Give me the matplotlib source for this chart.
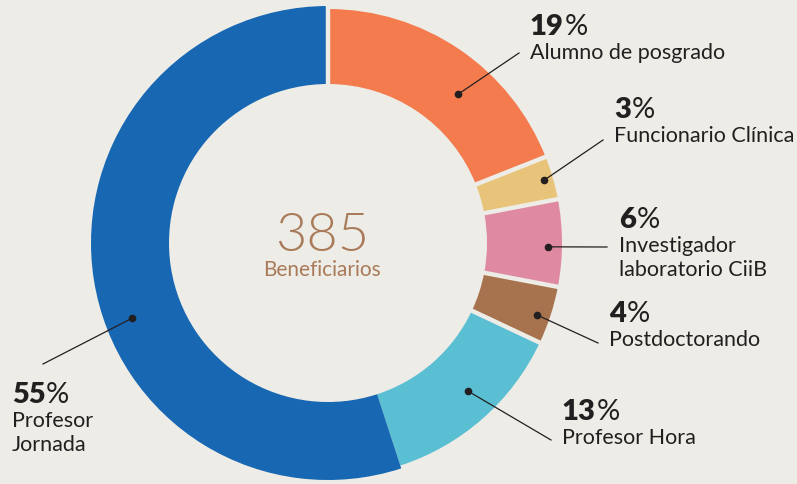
import numpy as np
import matplotlib.pyplot as plt

# data (share of 385 beneficiaries, %)
categories = ["Alumno de posgrado", "Funcionario Clínica", "Investigador\nlaboratorio CiiB",
              "Postdoctorando", "Profesor Hora", "Profesor\nJornada"]
shares = [19, 3, 6, 4, 13, 55]
total = 385
colors = ["#F47B4E", "#E8C47A", "#DF8AA0", "#A6734E", "#5ABFD3", "#1767B3"]

BG = "#EDECE6"
INK = "#231F20"
CENTER_INK = "#A97B5A"
W, H = 797, 484
CX, CY = 328, 243          # donut centre (px from top-left)
R_OUT, R_IN = 234, 159

# label layout: pct anchor (x, baseline y) in px, leader end point, dot angle offset / radius
label_xy = [(530, 35), (614, 118), (619, 228), (609, 322), (562, 420), (12, 403)]
leader_end = [(519, 53), (603, 140), (607, 247), (598, 343), (551, 440), (43, 364)]
dot_offset = [(-7, 198), (0, 225), (-1, 220), (-1, 221), (2, 204), (12, 210)]


def px(x, y):
    return x, H - y


plt.rcParams["font.family"] = ["Lato", "DejaVu Sans"]

fig = plt.figure(figsize=(W / 100, H / 100), dpi=100)
fig.patch.set_facecolor(BG)
ax = fig.add_axes([0, 0, 1, 1])
ax.set_facecolor(BG)

wedges, _ = ax.pie(shares, colors=colors, startangle=90, counterclock=False,
                   radius=R_OUT, center=px(CX, CY),
                   wedgeprops=dict(width=R_OUT - R_IN, linewidth=0))
# the big blue slice sits a touch further out
wedges[-1].set_radius(R_OUT + 3)
wedges[-1].set_width(R_OUT + 3 - R_IN)

cx, cy = px(CX, CY)
bounds = 90 - 360 * np.cumsum([0] + shares) / 100
# gaps between slices (none between the two blues)
for i, th in enumerate(bounds[:-1]):
    if i == len(shares) - 1:
        continue
    t = np.radians(th)
    ax.plot([cx + (R_IN - 5) * np.cos(t), cx + (R_OUT + 8) * np.cos(t)],
            [cy + (R_IN - 5) * np.sin(t), cy + (R_OUT + 8) * np.sin(t)],
            color=BG, lw=3.2, solid_capstyle="butt", zorder=3)

mids = (bounds[:-1] + bounds[1:]) / 2
for i, cat in enumerate(categories):
    da, r = dot_offset[i]
    t = np.radians(mids[i] + da)
    dx, dy = cx + r * np.cos(t), cy + r * np.sin(t)
    ex, ey = px(*leader_end[i])
    ax.plot([dx, ex], [dy, ey], color=INK, lw=0.9, zorder=4)
    ax.plot(dx, dy, "o", color=INK, ms=4.5, zorder=5)

    lx, ly = label_xy[i]
    num = ax.text(*px(lx, ly), f"{shares[i]}", fontsize=21, fontweight="heavy",
                  color=INK, ha="left", va="baseline")
    ax.annotate("%", xy=(1.0, 0), xycoords=num, xytext=(0.3, 0), textcoords="offset points",
                fontsize=21, color=INK, ha="left", va="bottom")
    for j, line in enumerate(cat.split("\n")):
        ax.text(*px(lx, ly + 24 + 24 * j), line, fontsize=15.5, color=INK,
                ha="left", va="baseline")

ax.text(*px(CX - 6, 251), f"{total}", fontsize=39, fontweight=300,
        color=CENTER_INK, ha="center", va="baseline")
ax.text(*px(CX - 6, 276), "Beneficiarios", fontsize=15, color=CENTER_INK,
        ha="center", va="baseline")

ax.set_xlim(0, W)
ax.set_ylim(0, H)
ax.set_aspect("equal")
ax.axis("off")

fig.savefig("out.png", dpi=100, facecolor=BG)
